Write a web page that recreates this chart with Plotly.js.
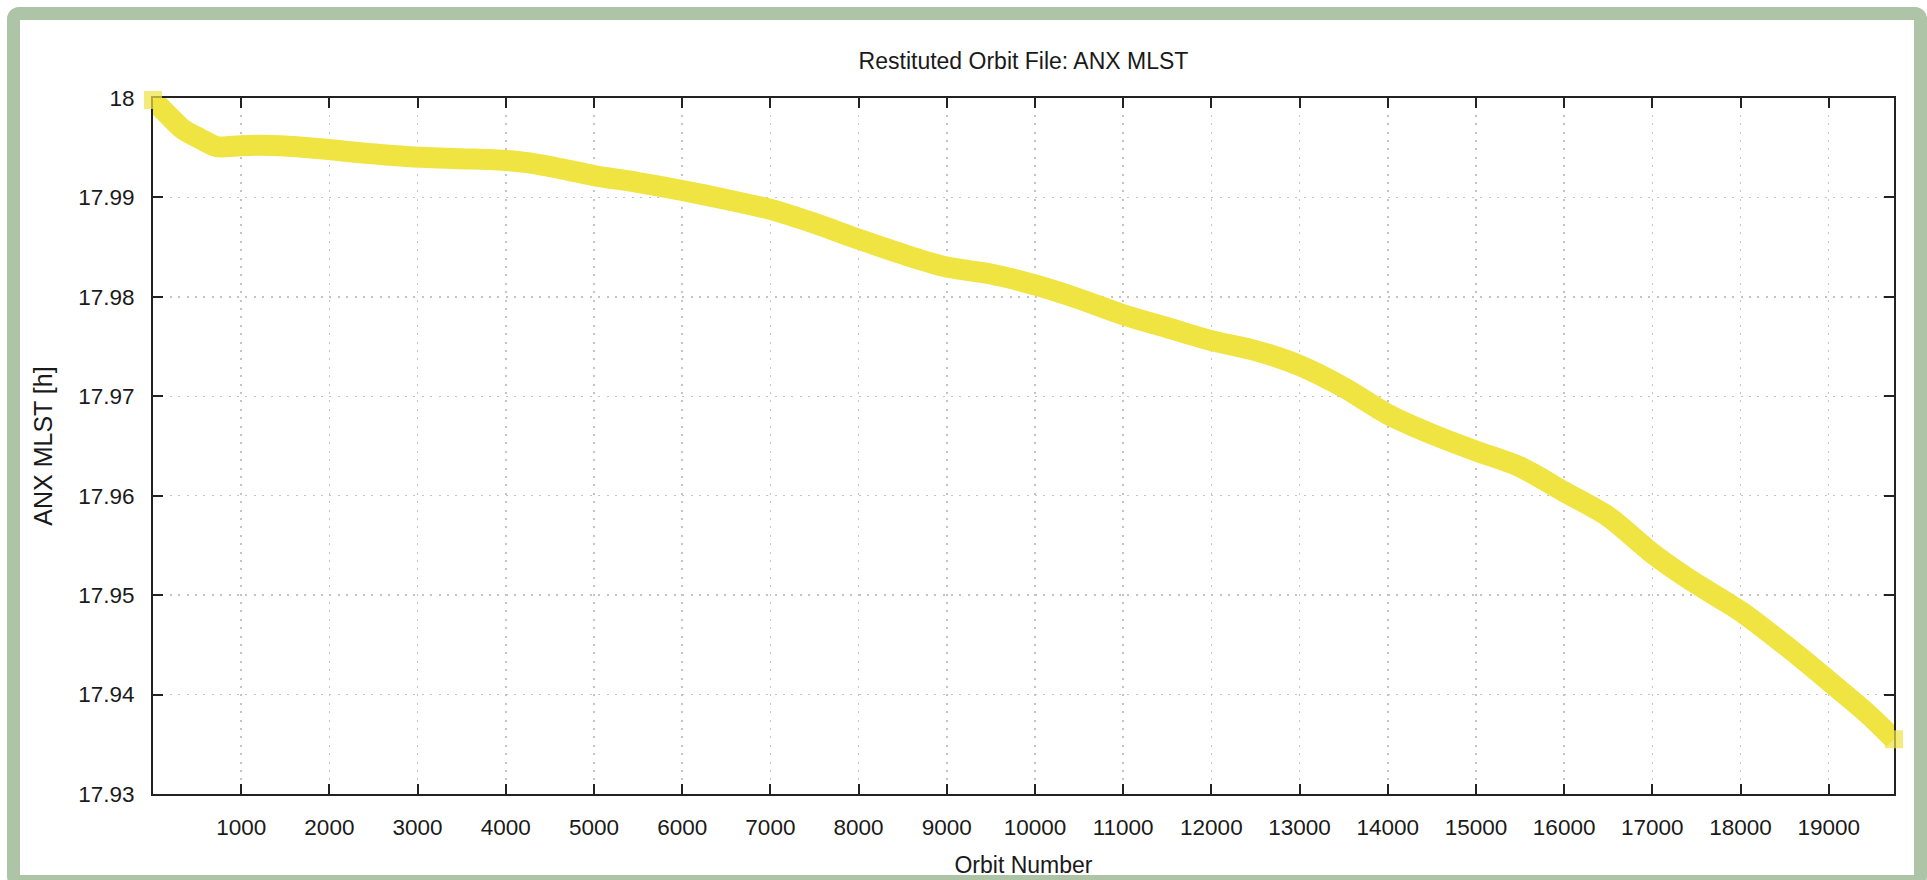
<!DOCTYPE html>
<html>
<head>
<meta charset="utf-8">
<script src="https://cdn.plot.ly/plotly-3.0.1.min.js"></script>
<style>
  html, body { margin: 0; padding: 0; background: #ffffff; overflow: hidden; }
  #wrap { position: relative; width: 1927px; height: 880px; }
  #chart { position: absolute; left: 0; top: 0; width: 1927px; height: 880px; }
  #frame { position: absolute; left: 7px; top: 7px; width: 1894px; height: 855px;
           border: 13px solid #aec4a6; border-radius: 12px; pointer-events: none; }
</style>
</head>
<body>
<div id="wrap">
  <div id="chart"></div>
  <div id="frame"></div>
</div>
<script>
// Orbit number (x) and ANX MLST in hours (y)
const orbitNumber = [0, 159, 347, 537, 726, 990, 1218, 1444, 1898, 2352, 2919, 3486, 3864, 4242, 4620,
  5000, 5500, 6000, 6500, 7000, 7500, 8000, 8500, 9000, 9500, 10000, 10500, 11000, 11500, 12000,
  12500, 13000, 13500, 14000, 14500, 15000, 15500, 16000, 16500, 17000, 17400, 17800, 18030, 18530,
  18983, 19437, 19740];
const anxMlst = [17.9998, 17.9984, 17.9968, 17.9959, 17.9951, 17.9952, 17.99525, 17.9952, 17.9949, 17.9945,
  17.9941, 17.9939, 17.9938, 17.9935, 17.9929,
  17.9922, 17.9915, 17.9907, 17.9898, 17.9888, 17.9874, 17.9858, 17.9843, 17.9830, 17.9823, 17.9812,
  17.9798, 17.9782, 17.9769, 17.9756, 17.9746, 17.9731, 17.9709, 17.9682, 17.9662, 17.9645, 17.9629,
  17.9604, 17.9579, 17.9542, 17.9517, 17.9495, 17.9482, 17.9448, 17.9415, 17.9381, 17.9355];

const xTickVals = [1000, 2000, 3000, 4000, 5000, 6000, 7000, 8000, 9000, 10000,
  11000, 12000, 13000, 14000, 15000, 16000, 17000, 18000, 19000];
const xTickText = ["1000", "2000", "3000", "4000", "5000", "6000", "7000", "8000", "9000", "10000",
  "11000", "12000", "13000", "14000", "15000", "16000", "17000", "18000", "19000"];
const yTickVals = [17.93, 17.94, 17.95, 17.96, 17.97, 17.98, 17.99, 18];
const yTickText = ["17.93", "17.94", "17.95", "17.96", "17.97", "17.98", "17.99", "18"];

const titleText = "Restituted Orbit File: ANX MLST";
const xTitle = "Orbit Number";
const yTitle = "ANX MLST [h]";

const endSizes = orbitNumber.map((_, i) => (i === 0 || i === orbitNumber.length - 1) ? 18 : 0);

const trace = {
  x: orbitNumber,
  y: anxMlst,
  type: 'scatter',
  mode: 'lines+markers',
  line: { color: '#f0e442', width: 21, shape: 'spline', smoothing: 0.8 },
  marker: { color: '#f0e442', symbol: 'square', size: endSizes, line: { width: 0 } },
  cliponaxis: false,
  hoverinfo: 'x+y'
};

const fontFam = '"Liberation Sans", Arial, Helvetica, sans-serif';

const axisCommon = {
  showline: true,
  linecolor: '#222222',
  linewidth: 2,
  mirror: 'ticks',
  ticks: 'inside',
  ticklen: 10,
  tickwidth: 2,
  tickcolor: '#222222',
  showgrid: true,
  gridcolor: '#c4c4c4',
  gridwidth: 1.5,
  griddash: '2px,6.4px',
  zeroline: false,
  layer: 'below traces',
  tickfont: { family: fontFam, size: 22.5, color: '#1a1a1a' },
  tickmode: 'array'
};

const layout = {
  width: 1927,
  height: 880,
  paper_bgcolor: 'rgba(0,0,0,0)',
  plot_bgcolor: '#ffffff',
  showlegend: false,
  margin: { l: 152.7, r: 33.3, t: 97.7, b: 85.7, pad: 0 },
  title: {
    text: titleText,
    font: { family: fontFam, size: 23, color: '#1a1a1a' },
    x: 0.5, xref: 'paper', xanchor: 'center',
    y: 1 - 61 / 880, yref: 'container', yanchor: 'middle'
  },
  xaxis: Object.assign({}, axisCommon, {
    range: [0, 19740],
    tickvals: xTickVals,
    ticktext: xTickText,
    ticklabelstandoff: 12,
    title: { text: xTitle, font: { family: fontFam, size: 23, color: '#1a1a1a' }, standoff: 18 }
  }),
  yaxis: Object.assign({}, axisCommon, {
    range: [17.93, 18],
    tickvals: yTickVals,
    ticktext: yTickText,
    ticklabelstandoff: 12,
    title: { text: yTitle, font: { family: fontFam, size: 25, color: '#1a1a1a' }, standoff: 18 }
  })
};

Plotly.newPlot('chart', [trace], layout, { displayModeBar: false, staticPlot: true });
</script>
</body>
</html>
